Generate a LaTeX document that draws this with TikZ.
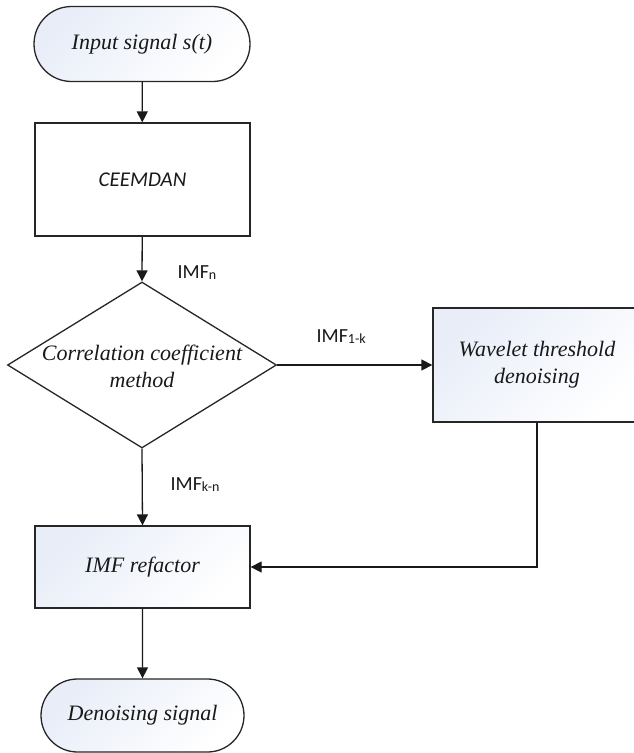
\documentclass[tikz,border=0pt]{standalone}
\usepackage{fontspec}
\setmainfont{Liberation Serif}
\newfontfamily\calfont{Carlito}
\usetikzlibrary{shapes.geometric, shapes.misc, arrows.meta, positioning}
\definecolor{paleblue}{HTML}{E8EDF8}
% IMF label with its small index
\newcommand{\imfsub}[1]{IMF\raisebox{-1pt}{\fontsize{14}{14}\selectfont #1}}

\begin{document}
\begin{tikzpicture}[x=1pt, y=-1pt, line width=1.3pt,
  every node/.style={font=\fontsize{22}{27}\selectfont\itshape, align=center, inner sep=0pt, text=black!90},
  base/.style={draw=black!85},
  shaded/.style={top color=paleblue, bottom color=white, shading angle=45},
  terminal/.style={base, rounded rectangle, shaded},
  process/.style={base, rectangle},
  decision/.style={base, diamond, fill=white},
  flow/.style={-{Triangle[length=11pt, width=11pt]}, black!90},
  imf/.style={font=\calfont\fontsize{20}{20}\selectfont, anchor=west}]

        % Fix the frame of the picture
        \useasboundingbox (0,0) rectangle (634,753);

        % Start and end of the flow
        \node[terminal, minimum width=216, minimum height=75] (input) at (142,44) {Input signal s(t)};
        \node[terminal, minimum width=203, minimum height=73] (output) at (142.5,715.5) {Denoising signal};

        % Processing steps
        \node[process, minimum width=215, minimum height=113, font=\calfont\itshape\fontsize{21}{21}\selectfont] (ceemdan) at (142.5,179.5) {CEEMDAN};
        \node[process, shaded, minimum width=208, minimum height=114] (wavelet) at (537,365) {Wavelet threshold\\denoising};
        \node[process, shaded, minimum width=215, minimum height=82] (refactor) at (142.5,567) {IMF refactor};

        % Decision with its text on top
        \node[decision, minimum width=269, minimum height=166] (corr) at (142,365) {};
        \node (corrtext) at (142,366.5) {Correlation coefficient\\method};

        % Connectors
        \draw[flow] (input) -- (ceemdan);
        \draw[flow] (ceemdan) -- (corr.north);
        \draw[flow] (corr.east) -- (wavelet.west);
        \draw[flow] (corr.south) -- (refactor.north);
        \draw[flow] (wavelet.south) |- (refactor.east);
        \draw[flow] (refactor) -- (output);

        % Labels of the IMF groups
        \node[imf] (imfn) at (177,273) {\imfsub{n}};
        \node[imf] (imfone) at (316,337) {\imfsub{1-k}};
        \node[imf] (imfk) at (170,485) {\imfsub{k-n}};
      \end{tikzpicture}
\end{document}
